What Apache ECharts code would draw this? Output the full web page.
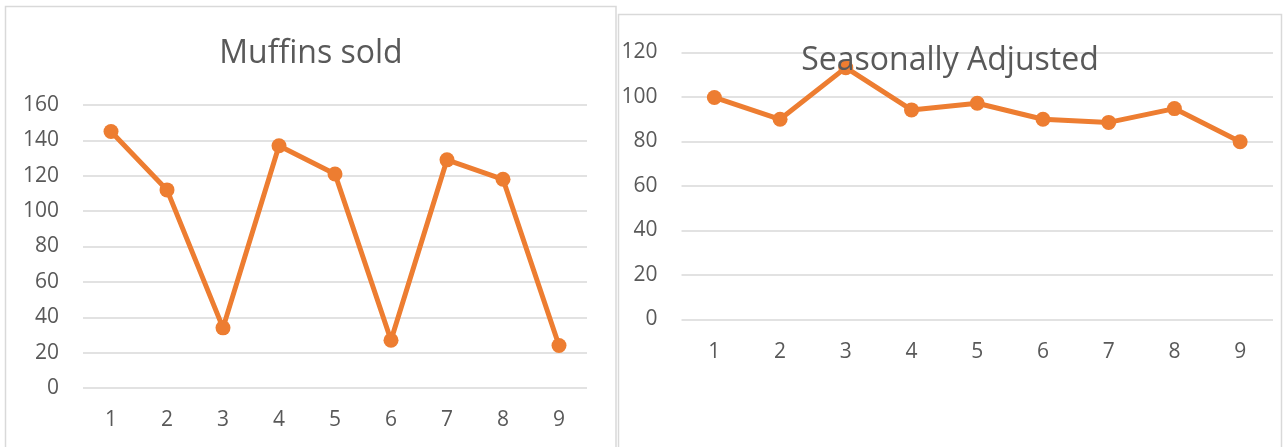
<!DOCTYPE html>
<html>
<head>
<meta charset="utf-8">
<title>Muffins sold</title>
<script src="https://cdn.jsdelivr.net/npm/echarts@6/dist/echarts.min.js"></script>
<style>
  html, body { margin: 0; padding: 0; background: #ffffff; }
  #chart { width: 1283px; height: 447px; }
</style>
</head>
<body>
<div id="chart"></div>
<script>
// Period labels shared by both panels
const periods = ['1', '2', '3', '4', '5', '6', '7', '8', '9'];

// Raw sales per period
const muffinsSold = [145, 112, 34, 137, 121, 27, 129, 118, 24];

// Same sales after removing the seasonal pattern
const seasonallyAdjusted = [99.7, 89.9, 113.1, 94.1, 97.1, 89.9, 88.5, 94.7, 79.8];

// Value-axis ranges
const rawAxis = { min: 0, max: 160, step: 20 };
const adjustedAxis = { min: 0, max: 120, step: 20 };

const FONT = 'Open Sans';
const TEXT = '#595959';
const GRID_LINE = '#d9d9d9';
const ORANGE = '#ED7D31';

function categoryAxis(gridIndex) {
  return {
    type: 'category',
    gridIndex,
    data: periods,
    boundaryGap: true,
    axisLine: { show: false },
    axisTick: { show: false },
    axisLabel: { color: TEXT, fontFamily: FONT, fontSize: 21, margin: 22 },
    splitLine: { show: false }
  };
}

function valueAxis(gridIndex, range) {
  return {
    type: 'value',
    gridIndex,
    min: range.min,
    max: range.max,
    interval: range.step,
    axisLine: { show: false },
    axisTick: { show: false },
    axisLabel: { color: TEXT, fontFamily: FONT, fontSize: 21, margin: 24 },
    splitLine: { show: true, lineStyle: { color: GRID_LINE, width: 1.5 } }
  };
}

function lineSeries(axisIndex, values) {
  return {
    type: 'line',
    xAxisIndex: axisIndex,
    yAxisIndex: axisIndex,
    data: values,
    symbol: 'circle',
    symbolSize: 15,
    lineStyle: { color: ORANGE, width: 5 },
    itemStyle: { color: ORANGE },
    emphasis: { disabled: true }
  };
}

const chart = echarts.init(document.getElementById('chart'), null, { renderer: 'canvas' });

chart.setOption({
  animation: false,
  backgroundColor: '#ffffff',
  title: [
    {
      text: 'Muffins sold',
      left: 311,
      top: 38,
      textAlign: 'center',
      padding: 0,
      textStyle: { color: TEXT, fontFamily: FONT, fontSize: 32, fontWeight: 'normal' }
    },
    {
      text: 'Seasonally Adjusted',
      left: 950,
      top: 45,
      textAlign: 'center',
      padding: 0,
      textStyle: { color: TEXT, fontFamily: FONT, fontSize: 32, fontWeight: 'normal' }
    }
  ],
  graphic: [
    {
      type: 'rect',
      shape: { x: 5.5, y: 6.5, width: 610.5, height: 470 },
      style: { fill: null, stroke: GRID_LINE, lineWidth: 1.5 },
      silent: true
    },
    {
      type: 'rect',
      shape: { x: 618.5, y: 14.5, width: 663, height: 470 },
      style: { fill: null, stroke: GRID_LINE, lineWidth: 1.5 },
      silent: true
    }
  ],
  grid: [
    { left: 83, top: 105, width: 504, height: 283, containLabel: false },
    { left: 681.5, top: 52.3, width: 591.5, height: 267, containLabel: false }
  ],
  xAxis: [categoryAxis(0), categoryAxis(1)],
  yAxis: [valueAxis(0, rawAxis), valueAxis(1, adjustedAxis)],
  series: [lineSeries(0, muffinsSold), lineSeries(1, seasonallyAdjusted)]
});
</script>
</body>
</html>
